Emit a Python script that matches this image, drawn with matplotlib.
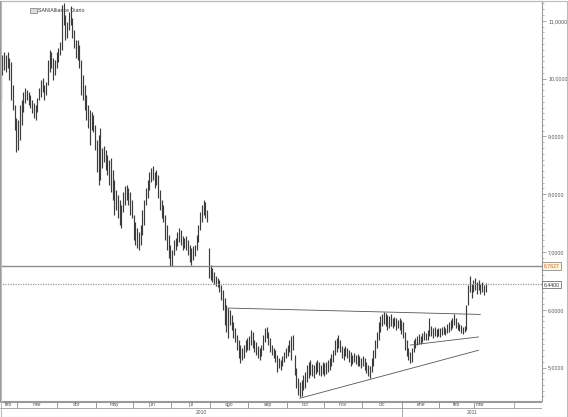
import matplotlib
matplotlib.use("Agg")
import matplotlib.pyplot as plt
import matplotlib.ticker as mticker
from matplotlib.patches import Rectangle
import pandas as pd

# Daily bars, grouped by month (high / low)
HIGH_FEB10 = [10.27, 10.41, 10.46, 10.41, 10.46, 10.36, 10.29, 9.89, 9.54, 9.32]
LOW_FEB10 = [9.63, 10.06, 10.15, 10.11, 10.18, 9.98, 9.63, 9.46, 9.11, 8.73]
HIGH_MAR10 = [9.28, 9.54, 9.63, 9.77, 9.84, 9.80, 9.77, 9.72, 9.63, 9.58, 9.54, 9.66,
              9.84, 9.98, 10.01, 9.89, 9.94, 10.32, 10.49, 10.46, 10.36, 10.32, 10.46]
LOW_MAR10 = [8.76, 8.94, 9.20, 9.42, 9.58, 9.63, 9.54, 9.49, 9.40, 9.32, 9.28, 9.42,
             9.63, 9.68, 9.77, 9.63, 9.72, 9.89, 10.11, 10.18, 9.98, 10.06, 10.18]
HIGH_APR10 = [10.53, 10.63, 11.27, 11.31, 11.10, 10.98, 11.15, 11.26, 11.05, 10.84, 10.67,
              10.67, 10.58, 10.32, 10.06, 9.89, 9.72, 9.54, 9.46, 9.42, 9.37, 9.20]
LOW_APR10 = [10.29, 10.41, 10.49, 10.93, 10.67, 10.70, 10.84, 10.93, 10.70, 10.53, 10.36,
             10.32, 10.18, 9.72, 9.63, 9.46, 9.28, 9.15, 8.85, 9.11, 9.08, 8.76]
HIGH_MAY10 = [8.94, 9.02, 9.15, 8.80, 8.83, 8.76, 8.68, 8.59, 8.63, 8.42, 8.25,
              8.07, 7.99, 7.90, 7.81, 8.04, 8.14, 8.16, 8.11, 8.04, 7.90]
LOW_MAY10 = [8.38, 8.16, 8.25, 8.45, 8.56, 8.42, 8.33, 8.16, 8.04, 7.90, 7.64,
             7.73, 7.59, 7.47, 7.42, 7.69, 7.81, 7.90, 7.81, 7.64, 7.59]
HIGH_JUN10 = [7.64, 7.52, 7.42, 7.35, 7.47, 7.73, 7.90, 8.11, 8.25, 8.38, 8.45,
              8.49, 8.38, 8.42, 8.33, 8.07, 7.90, 7.81, 7.64, 7.47, 7.29, 7.12]
LOW_JUN10 = [7.21, 7.12, 7.07, 7.03, 7.12, 7.29, 7.47, 7.81, 7.94, 8.07, 8.21,
             8.25, 8.11, 8.16, 7.94, 7.73, 7.59, 7.52, 7.21, 7.03, 6.90, 6.76]
HIGH_JUL10 = [7.03, 7.21, 7.24, 7.35, 7.42, 7.38, 7.28, 7.24, 7.28, 7.21, 7.12,
              7.07, 7.10, 7.12, 7.29, 7.47, 7.69, 7.81, 7.90, 7.87, 7.73, 7.07]
LOW_JUL10 = [6.76, 6.95, 7.03, 7.10, 7.17, 7.12, 7.03, 7.07, 7.03, 6.95, 6.83,
             6.78, 6.86, 6.93, 7.03, 7.17, 7.38, 7.52, 7.64, 7.59, 7.52, 6.55]
HIGH_AUG10 = [6.78, 6.72, 6.65, 6.59, 6.55, 6.52, 6.43, 6.34, 6.20, 6.08, 6.03,
              6.00, 5.91, 5.79, 5.69, 5.56, 5.48, 5.39, 5.34, 5.39, 5.48, 5.51]
LOW_AUG10 = [6.52, 6.48, 6.45, 6.41, 6.39, 6.31, 6.17, 6.00, 5.74, 5.62, 5.51,
             5.74, 5.65, 5.51, 5.44, 5.30, 5.17, 5.08, 5.13, 5.17, 5.27, 5.30]
HIGH_SEP10 = [5.55, 5.65, 5.62, 5.48, 5.44, 5.37, 5.34, 5.39, 5.56, 5.69, 5.70,
              5.62, 5.51, 5.39, 5.34, 5.30, 5.22, 5.17, 5.13, 5.20, 5.27, 5.34]
LOW_SEP10 = [5.30, 5.39, 5.34, 5.27, 5.22, 5.17, 5.13, 5.20, 5.30, 5.44, 5.51,
             5.39, 5.27, 5.22, 5.17, 5.10, 4.93, 4.99, 4.96, 5.03, 5.10, 5.17]
HIGH_OCT10 = [5.39, 5.48, 5.55, 5.56, 5.22, 4.99, 4.82, 4.75, 4.79, 4.87, 4.92,
              5.05, 5.10, 5.13, 5.06, 5.05, 5.10, 5.13, 5.10, 5.05, 5.10]
LOW_OCT10 = [5.20, 5.27, 5.13, 5.30, 4.88, 4.65, 4.53, 4.49, 4.51, 4.61, 4.65,
             4.75, 4.82, 4.87, 4.86, 4.82, 4.89, 4.92, 4.87, 4.86, 4.89]
HIGH_NOV10 = [5.08, 5.10, 5.13, 5.17, 5.23, 5.30, 5.48, 5.51, 5.56, 5.48, 5.37,
              5.34, 5.37, 5.34, 5.30, 5.27, 5.22, 5.25, 5.22, 5.23, 5.20, 5.17]
LOW_NOV10 = [4.86, 4.89, 4.92, 4.96, 5.03, 5.10, 5.22, 5.27, 5.34, 5.27, 5.17,
             5.13, 5.20, 5.17, 5.10, 5.03, 5.06, 5.10, 5.06, 5.03, 5.03, 4.99]
HIGH_DEC10 = [5.20, 5.17, 5.10, 5.05, 5.03, 5.17, 5.30, 5.48, 5.62, 5.79, 5.89, 5.93,
              5.96, 5.94, 5.91, 5.89, 5.93, 5.86, 5.88, 5.86, 5.82, 5.86, 5.82]
LOW_DEC10 = [5.03, 4.96, 4.91, 4.86, 4.82, 4.92, 5.03, 5.17, 5.34, 5.48, 5.62, 5.72,
             5.75, 5.72, 5.65, 5.69, 5.72, 5.69, 5.72, 5.65, 5.69, 5.65, 5.58]
HIGH_JAN11 = [5.79, 5.62, 5.48, 5.34, 5.27, 5.34, 5.48, 5.51, 5.55, 5.58, 5.55,
              5.60, 5.63, 5.60, 5.65, 5.86, 5.72, 5.69, 5.70, 5.67, 5.69]
LOW_JAN11 = [5.51, 5.30, 5.20, 5.13, 5.08, 5.10, 5.27, 5.34, 5.39, 5.41, 5.41,
             5.44, 5.48, 5.48, 5.48, 5.55, 5.55, 5.51, 5.55, 5.53, 5.55]
HIGH_FEB11 = [5.69, 5.70, 5.72, 5.69, 5.75, 5.79, 5.82, 5.86, 5.93, 5.86,
              5.79, 5.75, 5.74, 5.70, 5.72, 6.08, 6.43, 6.59, 6.45, 6.52]
LOW_FEB11 = [5.53, 5.56, 5.58, 5.56, 5.60, 5.62, 5.65, 5.69, 5.74, 5.69,
             5.65, 5.63, 5.60, 5.58, 5.62, 5.65, 6.08, 6.31, 6.20, 6.31]
HIGH_MAR11 = [6.55, 6.48, 6.52, 6.45, 6.48, 6.43, 6.47]
LOW_MAR11 = [6.34, 6.27, 6.34, 6.27, 6.31, 6.26, 6.31]

MONTH_NAMES = ["ene", "feb", "mar", "abr", "may", "jun", "jul",
               "ago", "sep", "oct", "nov", "dic"]

# Drawn lines: trend lines (start date, start price, end date, end price)
TRENDLINES = [
    ("2010-08-16", 6.03, "2011-03-04", 5.92),
    ("2010-10-12", 4.47, "2011-03-03", 5.30),
    ("2011-01-07", 5.39, "2011-03-03", 5.53),
]
LEVEL_SOLID = 6.7627
LEVEL_DOTTED = 6.44
TITLE = "SAN/Alliance Diario"

INK = "#3c3c3c"
FRAME = "#9a9a9a"
TEXT = "#555555"

highs = (HIGH_FEB10 + HIGH_MAR10 + HIGH_APR10 + HIGH_MAY10 + HIGH_JUN10 + HIGH_JUL10
         + HIGH_AUG10 + HIGH_SEP10 + HIGH_OCT10 + HIGH_NOV10 + HIGH_DEC10 + HIGH_JAN11
         + HIGH_FEB11 + HIGH_MAR11)
lows = (LOW_FEB10 + LOW_MAR10 + LOW_APR10 + LOW_MAY10 + LOW_JUN10 + LOW_JUL10
        + LOW_AUG10 + LOW_SEP10 + LOW_OCT10 + LOW_NOV10 + LOW_DEC10 + LOW_JAN11
        + LOW_FEB11 + LOW_MAR11)
dates = pd.bdate_range("2010-02-15", periods=len(highs))
idx = {d: i for i, d in enumerate(dates)}
# full calendar of trading days (to size the last month cell)
all_days = pd.bdate_range("2010-02-15", "2011-03-31")

plt.rcParams["font.family"] = ["Liberation Sans", "DejaVu Sans"]

W, H = 568, 417
fig = plt.figure(figsize=(W / 100, H / 100), dpi=100)
fig.patch.set_facecolor("white")

XLIM = (-0.29, 309.25)
ax = fig.add_axes([0, 16 / H, 542 / W, 400 / H])
ax.set_xlim(*XLIM)
ax.set_ylim(4.422, 11.343)
ax.vlines(range(len(highs)), lows, highs, color=INK, lw=0.85)

ax.axhline(LEVEL_SOLID, color="#8c8c8c", lw=1.0)
ax.axhline(LEVEL_DOTTED, color="#9a9a9a", lw=0.9, ls=(0, (1, 1)))
for d0, p0, d1, p1 in TRENDLINES:
    ax.plot([idx[pd.Timestamp(d0)], idx[pd.Timestamp(d1)]], [p0, p1],
            color="#555555", lw=0.6)

ax.yaxis.tick_right()
ax.yaxis.set_major_locator(mticker.MultipleLocator(1))
ax.yaxis.set_minor_locator(mticker.MultipleLocator(0.1))
ax.yaxis.set_major_formatter(mticker.FuncFormatter(lambda v, p: f"{v:.4f}".replace(".", ",")))
ax.tick_params(axis="y", which="major", length=3, width=0.6, color=FRAME,
               labelsize=3.8, labelcolor=TEXT, pad=1.5)
ax.tick_params(axis="y", which="minor", length=1.5, width=0.5, color=FRAME)
ax.set_xticks([])
for s in ax.spines.values():
    s.set_color(FRAME)
    s.set_linewidth(0.8)

# level labels on the right axis
ax.text(1.003, LEVEL_SOLID, f"{LEVEL_SOLID:.4f}".replace(".", ","), transform=ax.get_yaxis_transform(),
        fontsize=3.8, color="#c0603a", va="center", ha="left",
        bbox=dict(boxstyle="square,pad=0.25", fc="#fff6d8", ec="#777777", lw=0.5))
ax.text(1.003, LEVEL_DOTTED, f"{LEVEL_DOTTED:.4f}".replace(".", ","), transform=ax.get_yaxis_transform(),
        fontsize=3.8, color="#333333", va="center", ha="left",
        bbox=dict(boxstyle="square,pad=0.25", fc="white", ec="#555555", lw=0.5))

# title tag
fig.patches.append(Rectangle((30 / W, 1 - 13 / H), 7 / W, 5 / H, transform=fig.transFigure,
                             fc="#dddddd", ec="#777777", lw=0.5))
fig.text(38 / W, 1 - 10.5 / H, TITLE, fontsize=3.8, color="#333333", va="center", ha="left")

# date strip
dx = fig.add_axes([0, 0, 542 / W, 16 / H])
dx.set_xlim(*XLIM)
dx.set_ylim(0, 16)
dx.axis("off")
dx.axhline(15.5, color=FRAME, lw=0.8)
dx.axhline(9, color=FRAME, lw=0.6)
months = all_days.to_period("M")
day_pos = pd.Series(range(len(all_days)), index=all_days)
for m in months.unique():
    pos = day_pos[months == m]
    start = pos.iloc[0] - 0.5
    end = pos.iloc[-1] + 0.5
    if start > 0:
        dx.plot([start, start], [9, 15.5], color=FRAME, lw=0.6)
    dx.plot([end, end], [9, 15.5], color=FRAME, lw=0.6)
    data_pos = [i for i, d in enumerate(dates) if d.to_period("M") == m]
    if data_pos:
        dx.text(sum(data_pos) / len(data_pos), 12.2, MONTH_NAMES[m.month - 1],
                fontsize=3.6, color=TEXT, ha="center", va="center")
year_split = idx[pd.Timestamp("2011-01-03")] - 0.5
dx.plot([year_split, year_split], [0, 9], color=FRAME, lw=0.6)
dx.text((XLIM[0] + year_split) / 2, 4.3, "2010", fontsize=3.6, color=TEXT, ha="center", va="center")
dx.text((year_split + XLIM[1]) / 2, 4.3, "2011", fontsize=3.6, color=TEXT, ha="center", va="center")

# outer frame
fig.patches.append(Rectangle((0.5 / W, 0.5 / H), 566 / W, 416 / H, transform=fig.transFigure,
                             fill=False, ec="#bbbbbb", lw=0.8))

fig.savefig("out.png", dpi=100, facecolor="white")
